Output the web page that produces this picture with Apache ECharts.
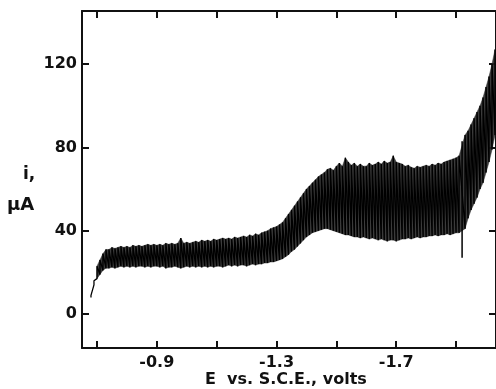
<!DOCTYPE html>
<html>
<head>
<meta charset="utf-8">
<script src="https://cdn.jsdelivr.net/npm/echarts@6/dist/echarts.min.js"></script>
<style>
html,body{margin:0;padding:0;background:#fff;}
#c{width:496px;height:389px;}
</style>
</head>
<body>
<div id="c"></div>
<script>
// Potential (V vs. S.C.E.) at which the oscillation envelope was read
var potentials = [
 -0.68,-0.69,-0.70,-0.71,-0.72,-0.73,-0.74,-0.75,-0.76,-0.77,-0.78,-0.79,
 -0.80,-0.81,-0.82,-0.83,-0.84,-0.85,-0.86,-0.87,-0.88,-0.89,
 -0.90,-0.91,-0.92,-0.93,-0.94,-0.95,-0.96,-0.97,-0.98,-0.99,
 -1.00,-1.01,-1.02,-1.03,-1.04,-1.05,-1.06,-1.07,-1.08,-1.09,
 -1.10,-1.11,-1.12,-1.13,-1.14,-1.15,-1.16,-1.17,-1.18,-1.19,
 -1.20,-1.21,-1.22,-1.23,-1.24,-1.25,-1.26,-1.27,-1.28,-1.29,
 -1.30,-1.31,-1.32,-1.33,-1.34,-1.35,-1.36,-1.37,-1.38,-1.39,
 -1.40,-1.41,-1.42,-1.43,-1.44,-1.45,-1.46,-1.47,-1.48,-1.49,
 -1.50,-1.51,-1.52,-1.53,-1.54,-1.55,-1.56,-1.57,-1.58,-1.59,
 -1.60,-1.61,-1.62,-1.63,-1.64,-1.65,-1.66,-1.67,-1.68,-1.69,
 -1.70,-1.71,-1.72,-1.73,-1.74,-1.75,-1.76,-1.77,-1.78,-1.79,
 -1.80,-1.81,-1.82,-1.83,-1.84,-1.85,-1.86,-1.87,-1.88,-1.89,
 -1.90,-1.91,-1.93,-1.94,-1.95,-1.96,-1.97,-1.98,-1.99,
 -2.00,-2.01,-2.02,-2.03
];
// Upper edge of the oscillations (µA)
var currentMax = [
 9,16,23,26,29,31,31,32,31.5,32,32.5,32,
 32.5,32,33,32.5,33,32.5,33,33.5,33,33.5,
 33,33.5,33,34,33.5,34,33.5,34,36.5,34,
 34.5,34,34.5,35,34.5,35.5,35,35.5,35,36,
 35.5,36,36.5,36,36.5,36,37,36.5,37,37.5,
 37,38,37.5,38.5,38,39,39.5,40,41,41.5,
 42,43,44,46,48,50,52,54,56,58,
 60,61.5,63,64.5,66,67,68,69.5,70,69,
 71,72.5,71,75,73,71.5,72.5,71,72,71,
 71,72.5,71.5,72,73,72,73.5,72.5,73,76,
 73,72.5,72,71,71.5,70.5,70,71,70.5,71,
 71.5,71,72,71.5,72.5,72,73,73.5,74,74.5,
 75,76,86,88,91,94,97,100,104,
 109,114,120,127
];
// Lower edge of the oscillations (µA)
var currentMin = [
 8,14,17,19,21,22,22,22.5,22,22.5,23,22.5,
 23,22.5,23,22.5,23,23,22.5,23,22.5,23,
 23,22.5,23,22,22.5,22.5,23,22.5,22,22.5,
 23,22.5,23,22.5,23,22.5,23,22.5,23,22.5,
 23,23,22.5,23,23.5,23,23.5,23,23.5,23.5,
 23,23.5,24,23.5,24,24,24.5,24.5,25,25,
 25.5,26,26.5,27.5,28.5,30,31,32.5,34,35.5,
 37,38,39,39.5,40,40.5,41,41,40.5,40,
 39.5,39,38.5,38,38,37.5,37,37,36.5,37,
 36.5,36,36.5,36,35.5,36,35.5,35,35.5,35.5,
 35,35.5,36,36,36.5,36,36.5,37,36.5,37,
 37,37.5,37.5,38,37.5,38,38,38.5,38,38.5,
 39,39,41,46,50,53,56,60,63,
 68,73,79,86
];
// Single isolated drop spike near -1.92 V
var spikePotentials = [-1.92];
var spikeMin = [27];
var spikeMax = [83];
// Tick marks and labels
var xTicks = [-0.7,-0.9,-1.1,-1.3,-1.5,-1.7,-1.9];
var xTickLabels = [-0.9,-1.3,-1.7];
var yTicks = [0,40,80,120];

// Band segments between consecutive readings, and the sawtooth trace
var bandData = [], traceData = [], spikeData = [];
for (var k = 0; k < potentials.length; k++) {
  if (k > 1 && k + 1 < potentials.length) {
    bandData.push([potentials[k], currentMin[k], currentMax[k],
                   potentials[k + 1], currentMin[k + 1], currentMax[k + 1]]);
  }
  traceData.push([potentials[k], currentMin[k]]);
  traceData.push([potentials[k], currentMax[k]]);
}
for (var s = 0; s < spikePotentials.length; s++) {
  spikeData.push([spikePotentials[s], spikeMin[s]]);
  spikeData.push([spikePotentials[s], spikeMax[s]]);
}

var FONT = 'DejaVu Sans';
var INK = '#111';
var chart = echarts.init(document.getElementById('c'), null, {renderer: 'canvas'});

var xCommon = {
  type: 'value', min: -2.0333, max: -0.65, inverse: true,
  splitLine: {show: false},
  axisLine: {show: true, onZero: false, lineStyle: {color: INK, width: 2}},
  axisTick: {show: true, inside: true, length: 7, customValues: xTicks, lineStyle: {color: INK, width: 2}}
};
var yCommon = {
  type: 'value', min: -16.3, max: 145.5,
  splitLine: {show: false},
  axisLine: {show: true, onZero: false, lineStyle: {color: INK, width: 2}},
  axisTick: {show: true, inside: true, length: 7, customValues: yTicks, lineStyle: {color: INK, width: 2}}
};

chart.setOption({
  backgroundColor: '#fff',
  animation: false,
  grid: {left: 82, top: 11, width: 415, height: 337, containLabel: false},
  xAxis: [
    Object.assign({}, xCommon, {
      position: 'bottom',
      axisLabel: {show: true, customValues: xTickLabels, margin: 7,
        formatter: function (v) { return v.toFixed(1); },
        fontFamily: FONT, fontWeight: 'bold', fontSize: 16, color: INK}
    }),
    Object.assign({}, xCommon, {position: 'top', axisLabel: {show: false}})
  ],
  yAxis: [
    Object.assign({}, yCommon, {
      position: 'left',
      axisLabel: {show: true, customValues: yTicks, margin: 5,
        fontFamily: FONT, fontWeight: 'bold', fontSize: 16, color: INK}
    }),
    Object.assign({}, yCommon, {position: 'right', axisLabel: {show: false}})
  ],
  graphic: [
    {type: 'text', left: 23, top: 166, style: {text: 'i,', font: 'bold 17px "DejaVu Sans"', fill: INK}},
    {type: 'text', left: 7, top: 196, style: {text: 'μA', font: 'bold 18px "DejaVu Sans"', fill: INK}},
    {type: 'text', left: 205, top: 372, style: {text: 'E  vs. S.C.E., volts', font: 'bold 16px "DejaVu Sans"', fill: INK}}
  ],
  series: [
    {type: 'custom', name: 'band', data: bandData, silent: true,
     encode: {x: [0, 3], y: [1, 2, 4, 5]},
     renderItem: function (params, api) {
       var a = api.coord([api.value(0), api.value(2)]);
       var b = api.coord([api.value(3), api.value(5)]);
       var c = api.coord([api.value(3), api.value(4)]);
       var d = api.coord([api.value(0), api.value(1)]);
       return {type: 'polygon', shape: {points: [a, b, c, d]},
               style: {fill: '#262626', stroke: '#262626', lineWidth: 0.5, opacity: 0.9}};
     }},
    {type: 'line', name: 'trace', data: traceData, symbol: 'none',
     lineStyle: {color: '#000', width: 1.3}, silent: true},
    {type: 'line', name: 'spike', data: spikeData, symbol: 'none',
     lineStyle: {color: '#000', width: 1.5}, silent: true}
  ]
});
</script>
</body>
</html>
